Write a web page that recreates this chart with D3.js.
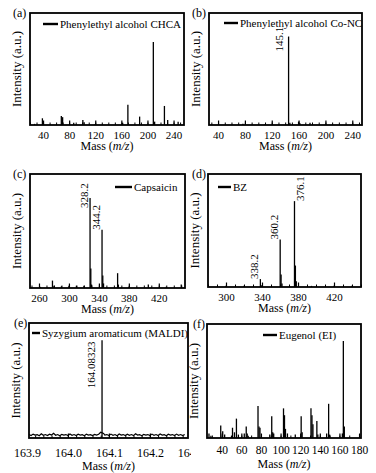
<!DOCTYPE html>
<html>
<head>
<meta charset="utf-8">
<script src="https://cdn.jsdelivr.net/npm/d3@7"></script>
<style>
  body { margin: 0; background: #fff; }
  svg { display: block; }
</style>
</head>
<body>
<svg id="chart" width="376" height="473"></svg>
<script>
// peak lists: [m/z, relative intensity]
var peaksA = [[27,0.01],[39,0.06],[68,0.08],[70,0.07],[87,0.02],[101,0.045],[103,0.025],[120,0.01],
  [162,0.02],[170,0.18],[188,0.075],[209,0.74],[211,0.03],[226,0.17],[231,0.045],[247,0.03]]
var peaksB = [[77,0.012],[110,0.006],[145.1,0.79],[147,0.02],[160,0.03],[162,0.015],[177,0.02],[200,0.006]]
var peaksC = [[262,0.01],[278,0.065],[280,0.02],[290,0.015],[300,0.02],[310,0.02],[320,0.02],
  [328.2,0.79],[329.2,0.17],[330.2,0.03],[344.2,0.51],[345.2,0.11],[346.2,0.04],[365,0.13],[366,0.03],
  [380,0.01],[406,0.03],[430,0.01],[450,0.03]]
var peaksD = [[300,0.01],[320,0.01],[338.2,0.07],[339.2,0.015],[360.2,0.42],[361.2,0.11],[362.2,0.03],
  [376.1,0.76],[377.1,0.19],[378.1,0.05],[395,0.01],[420,0.01],[440,0.01]]
var peaksE = [[164.08323,0.85]]
var noiseE = [[163.905,0.03],[163.91,0.022],[163.915,0.034],[163.92,0.025],[163.925,0.03],[163.93,0.02],
  [163.935,0.036],[163.94,0.024],[163.945,0.03],[163.95,0.021],[163.955,0.033],[163.96,0.026],[163.965,0.04],
  [163.97,0.024],[163.975,0.03],[163.98,0.02],[163.985,0.032],[163.99,0.025],[163.995,0.03],[164.0,0.022],
  [164.005,0.035],[164.01,0.024],[164.015,0.03],[164.02,0.021],[164.025,0.033],[164.03,0.025],[164.035,0.03],
  [164.04,0.02],[164.045,0.034],[164.05,0.025],[164.055,0.029],[164.06,0.022],[164.065,0.031],[164.07,0.026],
  [164.075,0.033],[164.08,0.05],[164.087,0.04],[164.09,0.026],[164.095,0.03],[164.1,0.022],[164.105,0.034],
  [164.11,0.024],[164.115,0.03],[164.12,0.02],[164.125,0.035],[164.13,0.025],[164.135,0.03],[164.14,0.022],
  [164.145,0.033],[164.15,0.024],[164.155,0.03],[164.16,0.021],[164.165,0.036],[164.17,0.025],[164.175,0.03],
  [164.18,0.02],[164.185,0.032],[164.19,0.026],[164.195,0.03],[164.2,0.022],[164.205,0.034],[164.21,0.024],
  [164.215,0.03],[164.22,0.021],[164.225,0.035],[164.23,0.025],[164.235,0.03],[164.24,0.02],[164.245,0.033],
  [164.25,0.026],[164.255,0.03],[164.26,0.022],[164.265,0.034],[164.27,0.024],[164.275,0.03],[164.28,0.021],[164.285,0.03]]
var peaksF = [[27,0.04],[29,0.02],[39,0.11],[41,0.06],[43,0.03],[50,0.02],[51,0.09],[53,0.05],[55,0.17],
  [57,0.03],[63,0.04],[65,0.1],[66,0.04],[67,0.02],[77,0.28],[78,0.1],[79,0.09],[89,0.03],[91,0.19],[92,0.05],
  [93,0.04],[103,0.26],[104,0.2],[105,0.08],[107,0.04],[115,0.03],[121,0.19],[122,0.05],[131,0.26],[132,0.2],
  [133,0.12],[137,0.15],[138,0.03],[147,0.04],[149,0.3],[150,0.03],[163,0.04],[164,0.85],[165,0.1]]

var ticksA = [40,80,120,160,200,240]
var ticksB = [40,80,120,160,200,240]
var ticksC = [260,300,340,380,420]
var ticksD = [300,340,380,420]
var ticksE = [163.9,164.0,164.1,164.2,164.3]
var ticksF = [40,60,80,100,120,140,160,180]

var legendNames = ["Phenylethyl alcohol CHCA","Phenylethyl alcohol Co-NC","Capsaicin","BZ",
  "Syzygium aromaticum (MALDI)","Eugenol (EI)"]
var panelLetters = ["(a)","(b)","(c)","(d)","(e)","(f)"]

var annotB = [[145.1,"145.1"]]
var annotC = [[328.2,"328.2"],[344.2,"344.2"]]
var annotD = [[338.2,"338.2"],[360.2,"360.2"],[376.1,"376.1"]]
var annotE = [[164.08323,"164.08323"]]

// layout of each panel (pixels)
var panels = [
  {peaks:peaksA, ticks:ticksA, minor:10, dom:[20,256], box:[30,13,184,125], fmt:d3.format("d"),
   leg:[43,24,15], annot:[], ann:[], pad:6, tfs:11, mt:25, lx:13},
  {peaks:peaksB, ticks:ticksB, minor:10, dom:[26.5,254.5], box:[209,13,362,125], fmt:d3.format("d"),
   leg:[224,23,14], annot:annotB, ann:[{gap:-6, dy:15}], pad:6, tfs:11, mt:25, lx:192},
  {peaks:peaksC, ticks:ticksC, minor:10, dom:[248,455], box:[30,174,185,288], fmt:d3.format("d"),
   leg:[115,187,17], annot:annotC, ann:[{gap:-2, dy:10},{gap:-2, dy:0}], pad:6, tfs:11, mt:25, lx:13},
  {peaks:peaksD, ticks:ticksD, minor:10, dom:[280,450], box:[208,174,361,287], fmt:d3.format("d"),
   leg:[218,187,13], annot:annotD, ann:[{gap:-2, dy:0},{gap:-2, dy:0},{gap:10, dy:0}], pad:6, tfs:11, mt:25, lx:192},
  {peaks:peaksE, ticks:ticksE, minor:0.02, dom:[163.905,164.293], box:[29,323,188,438], fmt:d3.format(".1f"),
   leg:[32,333,8], annot:annotE, ann:[{gap:-7, dy:48}], noise:noiseE, pad:10, tfs:12, mt:32, lx:14},
  {peaks:peaksF, ticks:ticksF, minor:10, dom:[25,182], box:[207,324,361,438], fmt:d3.format("d"),
   leg:[263,335,14], annot:[], ann:[], cover:true, pad:8, tfs:11.5, mt:30, lx:193}
]

var svg = d3.select("#chart")
var FONT = "'Liberation Serif'"

function txt(sel, size){
  return sel.style("font-family", FONT).style("font-size", size + "px").attr("fill", "#000")
}

panels.forEach(function(p, i){
  var L = p.box[0], T = p.box[1], R = p.box[2], B = p.box[3]
  var g = svg.append("g")

  if (p.cover) {
    g.append("rect").attr("x",191).attr("y",314).attr("width",185).attr("height",159).attr("fill","#fff")
  }

  var x = d3.scaleLinear().domain(p.dom).range([L,R])
  var y = d3.scaleLinear().domain([0,1]).range([B,T])

  // minor ticks
  var minorVals = []
  for (var v = Math.ceil(p.dom[0]/p.minor)*p.minor; v <= p.dom[1]; v += p.minor) minorVals.push(+v.toFixed(4))
  g.append("g")
    .attr("transform","translate(0,"+B+")")
    .call(d3.axisBottom(x).tickValues(minorVals).tickSize(-2.5).tickFormat(""))
    .call(function(a){ a.select(".domain").remove() })
    .selectAll("line").attr("stroke-width",1)

  // major ticks + labels
  var ax = g.append("g")
    .attr("transform","translate(0,"+B+")")
    .call(d3.axisBottom(x).tickValues(p.ticks).tickSize(-4.5).tickPadding(p.pad).tickFormat(p.fmt))
  ax.select(".domain").remove()
  ax.selectAll(".tick line").attr("stroke-width",1.2)
    .filter(function(d){ return d < p.dom[0] || d > p.dom[1] }).remove()
  txt(ax.selectAll("text"), p.tfs)

  // noise baseline
  if (p.noise) {
    g.append("path")
      .attr("d", d3.line().x(function(d){return x(d[0])}).y(function(d){return y(d[1])})(p.noise))
      .attr("fill","none").attr("stroke","#000").attr("stroke-width",1.2)
  }

  // peaks
  g.selectAll(".pk").data(p.peaks).enter().append("line")
    .attr("x1",function(d){return x(d[0])}).attr("x2",function(d){return x(d[0])})
    .attr("y1",y(0)).attr("y2",function(d){return y(d[1])})
    .attr("stroke","#000").attr("stroke-width",1.3)

  // peak annotations (rotated)
  p.annot.forEach(function(a, k){
    var pk = p.peaks.filter(function(d){return d[0]===a[0]})[0]
    var px = x(pk[0]), py = y(pk[1])
    var st = p.ann[k]
    txt(g.append("text"), 11)
      .attr("transform","translate("+(px + st.gap)+","+(py + st.dy)+") rotate(-90)")
      .text(a[1])
  })

  // frame
  g.append("rect").attr("x",L).attr("y",T).attr("width",R-L).attr("height",B-T)
    .attr("fill","none").attr("stroke","#000").attr("stroke-width",1.8)

  // legend
  g.append("line").attr("x1",p.leg[0]).attr("x2",p.leg[0]+p.leg[2]).attr("y1",p.leg[1]).attr("y2",p.leg[1])
    .attr("stroke","#000").attr("stroke-width",2.4)
  txt(g.append("text"), 11)
    .attr("x",p.leg[0]+p.leg[2]+2).attr("y",p.leg[1]+4)
    .text(legendNames[i])

  // axis titles
  txt(g.append("text"), 13)
    .attr("transform","translate("+(L-9)+","+((T+B)/2)+") rotate(-90)")
    .attr("text-anchor","middle")
    .text("Intensity (a.u.)")
  var mt = txt(g.append("text"), 12).attr("x",(L+R)/2).attr("y",B + p.mt)
    .attr("text-anchor","middle")
  mt.append("tspan").text("Mass (")
  mt.append("tspan").style("font-style","italic").text("m/z")
  mt.append("tspan").text(")")

  // panel letter
  txt(g.append("text"), 12)
    .attr("x",p.lx).attr("y",T+4)
    .text(panelLetters[i])
})
</script>
</body>
</html>
